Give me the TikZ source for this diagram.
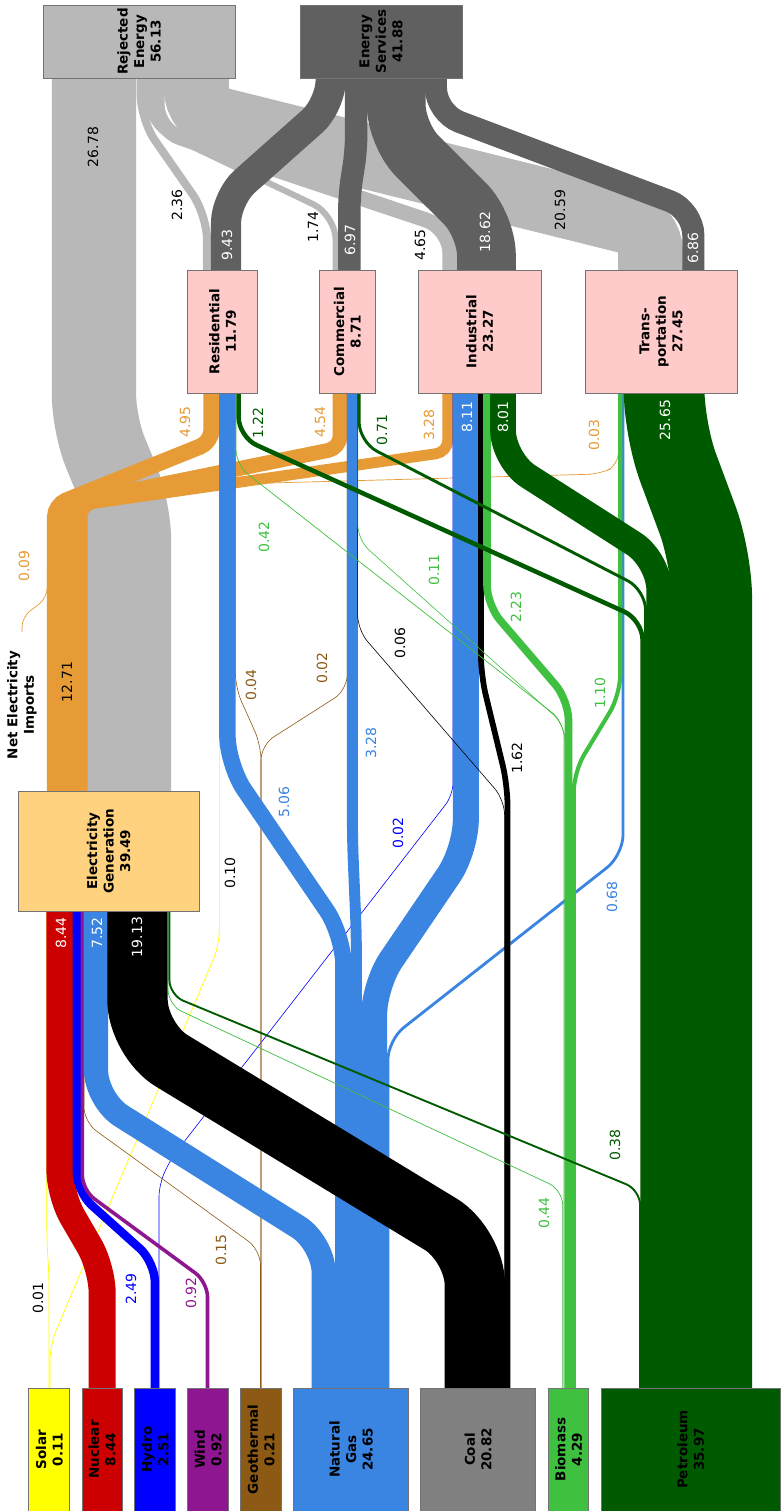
\documentclass[tikz,border=0pt]{standalone}
\usepackage{fontspec}
\setmainfont{DejaVu Sans}
\usetikzlibrary{positioning}
\newcommand{\lblfont}{\fontsize{14}{16}\selectfont}
\newcommand{\boxfont}{\bfseries\fontsize{13.5}{16.5}\selectfont}
\definecolor{rejc}{HTML}{B8B8B8}
\definecolor{servc}{HTML}{606060}
\definecolor{sectc}{HTML}{FFCACA}
\definecolor{elecc}{HTML}{FFD27F}
\definecolor{elflow}{HTML}{E69B37}
\definecolor{solarc}{HTML}{FFFF00}
\definecolor{nuclc}{HTML}{CC0000}
\definecolor{hydroc}{HTML}{0000FF}
\definecolor{windc}{HTML}{8E1690}
\definecolor{geoc}{HTML}{8C5A14}
\definecolor{gasc}{HTML}{3A84E2}
\definecolor{coalc}{HTML}{808080}
\definecolor{bioc}{HTML}{40C040}
\definecolor{petc}{HTML}{005A00}

\begin{document}
\begin{tikzpicture}[x=1pt,y=-1pt,
	flow/.style={line width=#1*3.12pt+0.7pt},
	hair/.style={line width=0.7pt},
	lab/.style={rotate=90,inner sep=0pt,font=\lblfont},
	box/.style={draw=black!55,line width=0.8pt,rotate=90,inner sep=0pt,align=center,font=\boxfont}]
					\fill[white] (0,0) rectangle (780,1511);
					\useasboundingbox (0,0) rectangle (780,1511);
					%REJECTED ENERGY
					\draw[rejc,flow=2.36,rounded corners=25] (140.7,40) -- (140.7,120) -- (207,215) -- (207,300);
					\draw[rejc,flow=1.74,rounded corners=25] (147.1,40) -- (147.1,125) -- (335.7,215) -- (335.7,300);
					\draw[rejc,flow=4.65,rounded corners=25] (157,40) -- (157,130) -- (450,228) -- (450,300);
					\draw[rejc,flow=20.59,rounded corners=25] (196.4,40) -- (196.4,114) -- (650.5,227) -- (650.5,300);
					%ENERGY SERVICES
					\draw[servc,flow=9.43,rounded corners=25] (330.7,40) -- (330.7,105) -- (226,198) -- (226,300);
					\draw[servc,flow=6.97,rounded corners=15] (356.2,40) -- (356.2,150) -- (349.3,195) -- (349.3,300);
					\draw[servc,flow=18.62,rounded corners=30] (396.2,40) -- (396.2,135) -- (486.4,225) -- (486.4,300);
					\draw[servc,flow=6.86,rounded corners=25] (435.9,40) -- (435.9,113) -- (693.3,210) -- (693.3,300);
					%ELECTRICITY OUT
					\draw[rejc,flow=26.78,rounded corners=30] (129,800) -- (129,510) -- (94,425) -- (94,40);
					\draw[elflow,flow=4.95] (211.5,380) [rounded corners=12] -- (211.5,442) -- (55,505) [rounded corners=30] -- (55,800);
					\draw[elflow,flow=4.54] (340.1,380) [rounded corners=12] -- (340.1,448) -- (69.8,503) [rounded corners=30] -- (69.8,800);
					\draw[elflow,flow=3.28] (447.9,380) [rounded corners=12] -- (447.9,452) -- (82,505) [rounded corners=30] -- (82,800);
					\draw[elflow,hair,rounded corners=12] (618.4,380) -- (618.4,465) -- (600,474) -- (160,486) -- (87,505) -- (87,800);
					\draw[elflow,hair,rounded corners=10] (22,632) -- (22,617) -- (47.2,598) -- (47.2,570);
					%SOLAR
					\draw[solarc,hair,rounded corners=15] (46.8,900) -- (46.8,1240) -- (49,1275) -- (49,1400);
					\draw[solarc,hair,rounded corners=15] (219.35,380) -- (219.35,945) -- (50,1345) -- (50,1400);
					%NUCLEAR, HYDRO, WIND
					\draw[nuclc,flow=8.44,rounded corners=25] (59.9,900) -- (59.9,1195) -- (102.2,1268) -- (102.2,1400);
					\draw[hydroc,flow=2.49,rounded corners=20] (76.9,900) -- (76.9,1192) -- (154.9,1262) -- (154.9,1400);
					\draw[hydroc,line width=0.6pt,rounded corners=12] (453,380) -- (453,795) -- (170,1160) -- (159,1185) -- (159,1400);
					\draw[windc,flow=0.92,rounded corners=15] (82.3,900) -- (82.3,1190) -- (207.5,1282) -- (207.5,1400);
					%GEOTHERMAL
					\draw[geoc,line width=0.6pt,rounded corners=15] (84,900) -- (84,1122) -- (260.5,1250) -- (260.5,1400);
					\draw[geoc,line width=0.6pt,rounded corners=15] (261,1400) -- (261,745) -- (235.4,688) -- (235.4,380);
					\draw[geoc,line width=0.6pt,rounded corners=15] (261,1400) -- (261,745) -- (347.2,690) -- (347.2,380);
					%NATURAL GAS
					\draw[gasc,flow=7.52,rounded corners=30] (96,900) -- (96,1100) -- (323.7,1243) -- (323.7,1400);
					\draw[gasc,flow=5.06,rounded corners=30] (227.4,380) -- (227.4,765) -- (343.4,935) -- (343.4,1400);
					\draw[gasc,flow=3.28,rounded corners=20] (352.4,380) -- (352.4,840) -- (356.4,935) -- (356.4,1400);
					\draw[gasc,flow=8.11,rounded corners=30] (465.8,380) -- (465.8,850) -- (374.1,985) -- (374.1,1400);
					\draw[gasc,flow=0.68,rounded corners=20] (623,380) -- (623,855) -- (387.9,1040) -- (387.9,1400);
					%COAL
					\draw[black,flow=19.13,rounded corners=40] (137.5,900) -- (137.5,1040) -- (474.9,1245) -- (474.9,1400);
					\draw[black,flow=1.62,rounded corners=20] (480.9,380) -- (480.9,675) -- (507.5,785) -- (507.5,1400);
					\draw[black,line width=0.6pt,rounded corners=15] (357.6,380) -- (357.6,630) -- (504.6,800) -- (504.6,1400);
					%BIOMASS
					\draw[bioc,hair,rounded corners=15] (168.1,900) -- (168.1,1005) -- (562.7,1190) -- (562.7,1400);
					\draw[bioc,hair,rounded corners=15] (236.1,380) -- (236.1,465) -- (564,722) -- (564,1400);
					\draw[bioc,line width=0.6pt,rounded corners=15] (357.8,380) -- (357.8,540) -- (564.9,725) -- (564.9,1400);
					\draw[bioc,flow=2.23,rounded corners=20] (487,380) -- (487,605) -- (568.5,700) -- (568.5,1400);
					\draw[bioc,flow=1.10,rounded corners=20] (620.2,380) -- (620.2,695) -- (573.7,772) -- (573.7,1400);
					%PETROLEUM
					\draw[petc,flow=0.38,rounded corners=15] (169.4,900) -- (169.4,995) -- (640.1,1190) -- (640.1,1400);
					\draw[petc,flow=1.22,rounded corners=20] (238.6,380) -- (238.6,437) -- (642.6,620) -- (642.6,1400);
					\draw[petc,flow=0.71,rounded corners=20] (359.1,380) -- (359.1,442) -- (645.6,590) -- (645.6,1400);
					\draw[petc,flow=8.01,rounded corners=30] (503,380) -- (503,460) -- (659.2,560) -- (659.2,1400);
					\draw[petc,flow=25.65,rounded corners=40] (664.1,380) -- (664.1,430) -- (711.7,558) -- (711.7,1400);
					%BOXES
					\node[box,fill=rejc,minimum width=73pt,minimum height=192pt] (rej) at (139,41.5) {Rejected\\Energy\\56.13};
					\node[box,fill=servc,minimum width=73pt,minimum height=162pt] (serv) at (381,41.5) {Energy\\Services\\41.88};
					\node[box,fill=sectc,minimum width=123pt,minimum height=70pt] (res) at (222.5,331.5) {Residential\\11.79};
					\node[box,fill=sectc,minimum width=123pt,minimum height=56.6pt] (com) at (347.3,331.5) {Commercial\\8.71};
					\node[box,fill=sectc,minimum width=123pt,minimum height=123pt] (ind) at (479.5,331.5) {Industrial\\23.27};
					\node[box,fill=sectc,minimum width=123pt,minimum height=152pt] (trans) at (661,331.5) {Trans-\\portation\\27.45};
					\node[box,fill=elecc,minimum width=120pt,minimum height=181pt] (elec) at (108.5,851) {Electricity\\Generation\\39.49};
					\node[box,fill=solarc,minimum width=123pt,minimum height=41pt] (solar) at (49.3,1449.5) {Solar\\0.11};
					\node[box,fill=nuclc,minimum width=123pt,minimum height=40.4pt] (nucl) at (102.2,1449.5) {Nuclear\\8.44};
					\node[box,fill=hydroc,minimum width=123pt,minimum height=41.3pt] (hydro) at (155,1449.5) {Hydro\\2.51};
					\node[box,fill=windc,minimum width=123pt,minimum height=40.8pt] (wind) at (208,1449.5) {Wind\\0.92};
					\node[box,fill=geoc,minimum width=123pt,minimum height=41.3pt] (geo) at (261,1449.5) {Geothermal\\0.21};
					\node[box,fill=gasc,minimum width=123pt,minimum height=115pt] (gas) at (351,1449.5) {Natural\\Gas\\24.65};
					\node[box,fill=coalc,minimum width=123pt,minimum height=115.4pt] (coal) at (478,1449.5) {Coal\\20.82};
					\node[box,fill=bioc,minimum width=123pt,minimum height=40.3pt] (bio) at (568.5,1449.5) {Biomass\\4.29};
					\node[box,fill=petc,minimum width=123pt,minimum height=179pt] (pet) at (690.5,1449.5) {Petroleum\\35.97};
					\node[lab,font=\boxfont,align=center] (imp) at (22,705) {Net Electricity\\Imports};
					%FLOW LABELS
					\node[lab] (l2678) at (93,147) {26.78};
					\node[lab] (l236) at (177,205) {2.36};
					\node[lab] (l174) at (313,227) {1.74};
					\node[lab] (l465) at (420,245) {4.65};
					\node[lab] (l2059) at (560,210) {20.59};
					\node[lab,text=white] (l943) at (227,245) {9.43};
					\node[lab,text=white] (l697) at (350,240) {6.97};
					\node[lab,text=white] (l1862) at (485,232) {18.62};
					\node[lab,text=white] (l686) at (693,248) {6.86};
					\node[lab,text=elflow] (l495) at (185,422) {4.95};
					\node[lab,text=petc] (l122) at (258,423) {1.22};
					\node[lab,text=elflow] (l454) at (320,422) {4.54};
					\node[lab,text=petc] (l071) at (382,430) {0.71};
					\node[lab,text=elflow] (l328e) at (429,425) {3.28};
					\node[lab,text=white] (l811) at (467,417) {8.11};
					\node[lab,text=white] (l801) at (503,417) {8.01};
					\node[lab,text=elflow] (l003) at (594,435) {0.03};
					\node[lab,text=white] (l2565) at (665,420) {25.65};
					\node[lab,text=elflow] (l009) at (24,566) {0.09};
					\node[lab] (l1271) at (67,682) {12.71};
					\node[lab,text=bioc] (l042) at (264,537) {0.42};
					\node[lab,text=bioc] (l011) at (434,570) {0.11};
					\node[lab,text=bioc] (l223) at (516,607) {2.23};
					\node[lab,text=geoc] (l004) at (251,685) {0.04};
					\node[lab,text=geoc] (l002g) at (322,668) {0.02};
					\node[lab] (l006) at (400,643) {0.06};
					\node[lab,text=bioc] (l110) at (600,693) {1.10};
					\node[lab,text=gasc] (l328g) at (371,743) {3.28};
					\node[lab] (l162) at (517,758) {1.62};
					\node[lab,text=gasc] (l506) at (284,802) {5.06};
					\node[lab,text=hydroc] (l002h) at (398,833) {0.02};
					\node[lab] (l010) at (230,873) {0.10};
					\node[lab,text=gasc] (l068) at (612,897) {0.68};
					\node[lab,text=white] (l844) at (61,933) {8.44};
					\node[lab,text=white] (l752) at (97,933) {7.52};
					\node[lab,text=white] (l1913) at (137,937) {19.13};
					\node[lab,text=petc] (l038) at (615,1145) {0.38};
					\node[lab,text=bioc] (l044) at (544,1213) {0.44};
					\node[lab,text=geoc] (l015) at (221,1250) {0.15};
					\node[lab,text=hydroc] (l249) at (131,1289) {2.49};
					\node[lab,text=windc] (l092) at (191,1293) {0.92};
					\node[lab] (l001) at (38,1298) {0.01};
\end{tikzpicture}
\end{document}
